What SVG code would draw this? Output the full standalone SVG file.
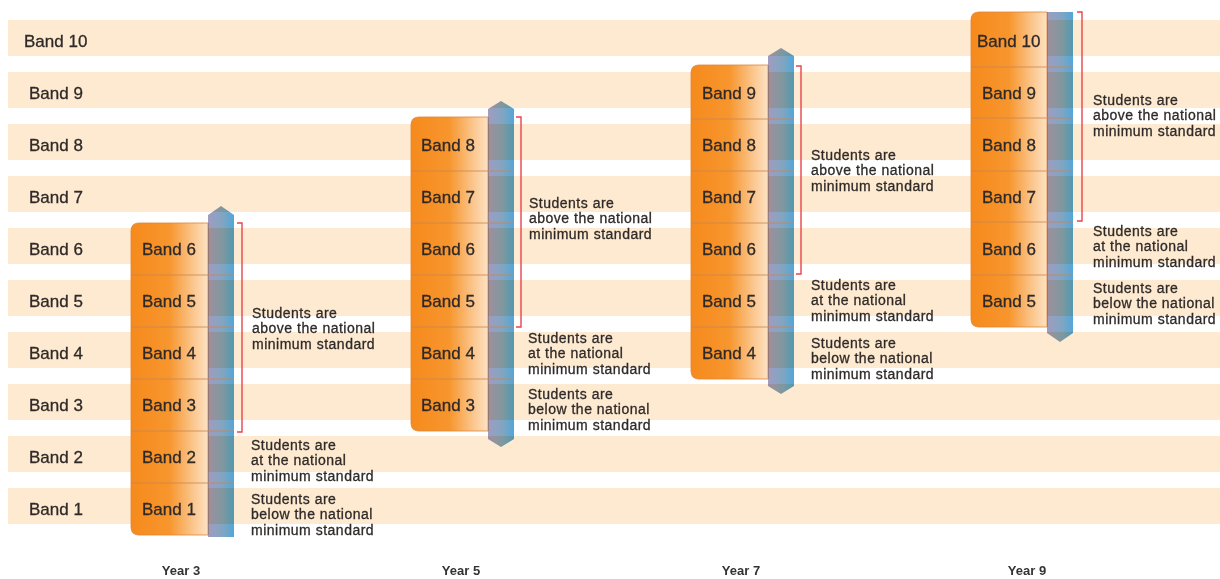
<svg xmlns="http://www.w3.org/2000/svg" width="1220" height="579" viewBox="0 0 1220 579">
<defs>
<linearGradient id="og" x1="0" y1="0" x2="1" y2="0">
<stop offset="0" stop-color="#F68A1C"/>
<stop offset="0.5" stop-color="#F7962E"/>
<stop offset="0.82" stop-color="#FBC891"/>
<stop offset="1" stop-color="#FDE2C4"/>
</linearGradient>
<linearGradient id="bg" x1="0" y1="0" x2="1" y2="0">
<stop offset="0" stop-color="#A09CC0"/>
<stop offset="0.6" stop-color="#7EA6C2"/>
<stop offset="1" stop-color="#52A6DA"/>
</linearGradient>
<style>
.stripe{fill:#FDEAD1}
.lbl{font-family:"Liberation Sans",Arial,sans-serif;font-size:17px;fill:#2f2a28;stroke:#2f2a28;stroke-width:0.3}
.ann{font-family:"Liberation Sans",Arial,sans-serif;font-size:14px;letter-spacing:0.5px;fill:#2f2a28;stroke:#2f2a28;stroke-width:0.3}
.yr{font-family:"Liberation Sans",Arial,sans-serif;font-size:13px;font-weight:bold;fill:#333;text-anchor:middle}
.box{fill:url(#og);stroke:#E0853A;stroke-width:0.8}
.bar{fill:url(#bg);mix-blend-mode:multiply}
.div{stroke:#C98550;stroke-width:0.8;fill:none}
.br{stroke:#E8434C;stroke-width:1.4;fill:none}
</style>
</defs>
<rect width="1220" height="579" fill="#ffffff"/>
<g id="stripes">
<rect class="stripe" x="8" y="20" width="1212" height="36"/>
<rect class="stripe" x="8" y="72" width="1212" height="36"/>
<rect class="stripe" x="8" y="124" width="1212" height="36"/>
<rect class="stripe" x="8" y="176" width="1212" height="36"/>
<rect class="stripe" x="8" y="228" width="1212" height="36"/>
<rect class="stripe" x="8" y="280" width="1212" height="36"/>
<rect class="stripe" x="8" y="332" width="1212" height="36"/>
<rect class="stripe" x="8" y="384" width="1212" height="36"/>
<rect class="stripe" x="8" y="436" width="1212" height="36"/>
<rect class="stripe" x="8" y="488" width="1212" height="36"/>
</g>
<g id="band-labels" class="lbl">
<text x="24" y="47">Band 10</text>
<text x="29" y="99">Band 9</text>
<text x="29" y="151">Band 8</text>
<text x="29" y="203">Band 7</text>
<text x="29" y="255">Band 6</text>
<text x="29" y="307">Band 5</text>
<text x="29" y="359">Band 4</text>
<text x="29" y="411">Band 3</text>
<text x="29" y="463">Band 2</text>
<text x="29" y="515">Band 1</text>
</g>

<g id="year3">
<path class="box" d="M139,223 H208 V535 H139 Q131,535 131,527 V231 Q131,223 139,223 Z"/>
<polygon class="bar" points="208,215 221,206 234,215 234,537 208,537"/>
<path class="div" d="M131,275 H234 M131,327 H234 M131,379 H234 M131,431 H234 M131,483 H234"/>
<g class="lbl">
<text x="142" y="255">Band 6</text>
<text x="142" y="307">Band 5</text>
<text x="142" y="359">Band 4</text>
<text x="142" y="411">Band 3</text>
<text x="142" y="463">Band 2</text>
<text x="142" y="515">Band 1</text>
</g>
<text class="ann" x="252" y="317.5">Students are<tspan x="252" dy="15.5">above the national</tspan><tspan x="252" dy="15.5">minimum standard</tspan></text>
<text class="ann" x="251" y="449.5">Students are<tspan x="251" dy="15.5">at the national</tspan><tspan x="251" dy="15.5">minimum standard</tspan></text>
<text class="ann" x="251" y="503.5">Students are<tspan x="251" dy="15.5">below the national</tspan><tspan x="251" dy="15.5">minimum standard</tspan></text>
<text class="yr" x="181" y="575">Year 3</text>
</g>

<g id="year5">
<path class="box" d="M419,117 H488 V431 H419 Q411,431 411,423 V125 Q411,117 419,117 Z"/>
<polygon class="bar" points="488,109 501,101 514,109 514,439 501,447 488,439"/>
<path class="div" d="M411,171 H514 M411,223 H514 M411,275 H514 M411,327 H514 M411,379 H514"/>
<g class="lbl">
<text x="421" y="151">Band 8</text>
<text x="421" y="203">Band 7</text>
<text x="421" y="255">Band 6</text>
<text x="421" y="307">Band 5</text>
<text x="421" y="359">Band 4</text>
<text x="421" y="411">Band 3</text>
</g>
<text class="ann" x="529" y="207.5">Students are<tspan x="529" dy="15.5">above the national</tspan><tspan x="529" dy="15.5">minimum standard</tspan></text>
<text class="ann" x="528" y="342.5">Students are<tspan x="528" dy="15.5">at the national</tspan><tspan x="528" dy="15.5">minimum standard</tspan></text>
<text class="ann" x="528" y="398.5">Students are<tspan x="528" dy="15.5">below the national</tspan><tspan x="528" dy="15.5">minimum standard</tspan></text>
<text class="yr" x="461" y="575">Year 5</text>
</g>

<g id="year7">
<path class="box" d="M699,65 H768 V379 H699 Q691,379 691,371 V73 Q691,65 699,65 Z"/>
<polygon class="bar" points="768,56 781,48 794,56 794,386 781,394 768,386"/>
<path class="div" d="M691,119 H794 M691,171 H794 M691,223 H794 M691,275 H794 M691,327 H794"/>
<g class="lbl">
<text x="702" y="99">Band 9</text>
<text x="702" y="151">Band 8</text>
<text x="702" y="203">Band 7</text>
<text x="702" y="255">Band 6</text>
<text x="702" y="307">Band 5</text>
<text x="702" y="359">Band 4</text>
</g>
<text class="ann" x="811" y="159.5">Students are<tspan x="811" dy="15.5">above the national</tspan><tspan x="811" dy="15.5">minimum standard</tspan></text>
<text class="ann" x="811" y="289.5">Students are<tspan x="811" dy="15.5">at the national</tspan><tspan x="811" dy="15.5">minimum standard</tspan></text>
<text class="ann" x="811" y="347.5">Students are<tspan x="811" dy="15.5">below the national</tspan><tspan x="811" dy="15.5">minimum standard</tspan></text>
<text class="yr" x="741" y="575">Year 7</text>
</g>

<g id="year9">
<path class="box" d="M979,12 H1047 V327 H979 Q971,327 971,319 V20 Q971,12 979,12 Z"/>
<polygon class="bar" points="1047,12 1073,12 1073,333 1060,342 1047,333"/>
<path class="div" d="M971,67 H1073 M971,118 H1073 M971,171 H1073 M971,222 H1073 M971,275 H1073"/>
<g class="lbl">
<text x="977" y="47">Band 10</text>
<text x="982" y="99">Band 9</text>
<text x="982" y="151">Band 8</text>
<text x="982" y="203">Band 7</text>
<text x="982" y="255">Band 6</text>
<text x="982" y="307">Band 5</text>
</g>
<text class="ann" x="1093" y="104.5">Students are<tspan x="1093" dy="15.5">above the national</tspan><tspan x="1093" dy="15.5">minimum standard</tspan></text>
<text class="ann" x="1093" y="235.5">Students are<tspan x="1093" dy="15.5">at the national</tspan><tspan x="1093" dy="15.5">minimum standard</tspan></text>
<text class="ann" x="1093" y="292.5">Students are<tspan x="1093" dy="15.5">below the national</tspan><tspan x="1093" dy="15.5">minimum standard</tspan></text>
<text class="yr" x="1027" y="575">Year 9</text>
</g>

<g id="connectors">
<path class="br" d="M237,223 H242 V432 H237"/>
<path class="br" d="M516,117 H521 V327 H516"/>
<path class="br" d="M796,66 H801 V274 H796"/>
<path class="br" d="M1077,12 H1082 V221 H1077"/>
</g>
</svg>
